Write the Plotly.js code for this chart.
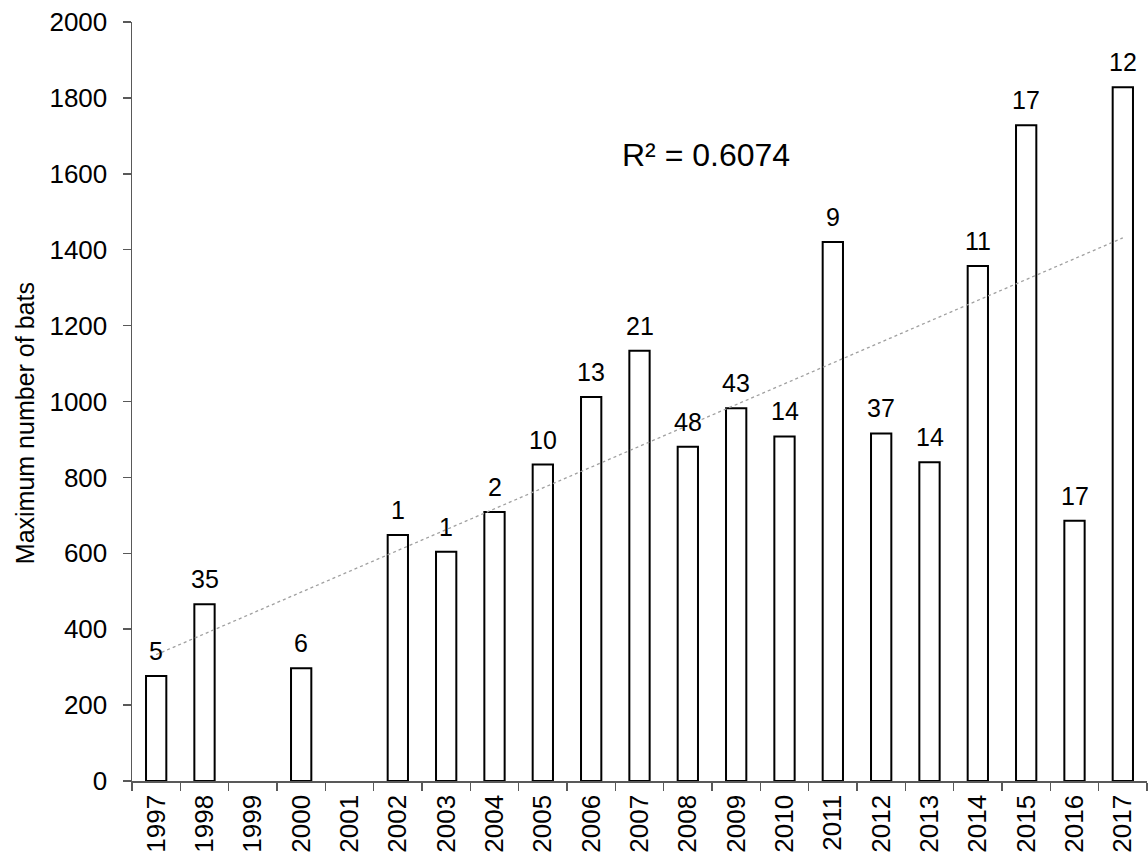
<!DOCTYPE html>
<html>
<head>
<meta charset="utf-8">
<script src="https://cdn.plot.ly/plotly-3.0.1.min.js"></script>
<style>html,body{margin:0;padding:0;background:#fff;}#chart{width:1148px;height:856px;}</style>
</head>
<body>
<div id="chart"></div>
<script>
// Data
const years = ['1997','1998','1999','2000','2001','2002','2003','2004','2005','2006','2007','2008','2009','2010','2011','2012','2013','2014','2015','2016','2017'];
const maxBats = [277, 466, null, 297, null, 648, 604, 709, 834, 1012, 1134, 881, 982, 908, 1420, 916, 840, 1357, 1728, 686, 1828];
const sampleCounts = ['5','35','','6','','1','1','2','10','13','21','48','43','14','9','37','14','11','17','17','12'];
const r2Label = 'R² = 0.6074';
const yTitle = 'Maximum number of bats';

// Linear trend (least squares on category index, missing years skipped)
const pts = [];
maxBats.forEach((v, i) => { if (v !== null) pts.push([i, v]); });
const n = pts.length;
const mx = pts.reduce((s, p) => s + p[0], 0) / n;
const my = pts.reduce((s, p) => s + p[1], 0) / n;
let sxy = 0, sxx = 0;
pts.forEach(p => { sxy += (p[0] - mx) * (p[1] - my); sxx += (p[0] - mx) ** 2; });
const slope = sxy / sxx, intercept = my - slope * mx;
const trendX = [years[0], years[years.length - 1]];
const trendY = [intercept, intercept + slope * (years.length - 1)];

const FONT = 'Arial, "Liberation Sans", sans-serif';

const bars = {
  type: 'bar', x: years, y: maxBats,
  marker: {color: '#ffffff', line: {color: '#000000', width: 2}},
  hoverinfo: 'x+y', showlegend: false
};
const trend = {
  type: 'scatter', mode: 'lines', x: trendX, y: trendY,
  line: {color: '#a0a0a0', width: 1.3, dash: 'dot'},
  hoverinfo: 'skip', showlegend: false
};

const annotations = [];
years.forEach((yr, i) => {
  if (maxBats[i] !== null && sampleCounts[i] !== '') {
    annotations.push({
      x: i, y: maxBats[i], xref: 'x', yref: 'y',
      text: sampleCounts[i], showarrow: false,
      yanchor: 'bottom', yshift: 9,
      font: {family: FONT, size: 25, color: '#000'}
    });
  }
});
annotations.push({
  xref: 'paper', yref: 'paper', x: 0.566, y: 0.825,
  text: r2Label, showarrow: false, xanchor: 'center', yanchor: 'middle',
  font: {family: FONT, size: 32, color: '#000'}
});
// y-axis title
annotations.push({
  xref: 'paper', yref: 'paper', x: -0.106, y: 0.472,
  text: yTitle, showarrow: false, textangle: -90,
  xanchor: 'center', yanchor: 'middle',
  font: {family: FONT, size: 25, color: '#000'}
});

const layout = {
  width: 1148, height: 856,
  margin: {l: 132, r: 1, t: 22, b: 75},
  paper_bgcolor: '#ffffff', plot_bgcolor: '#ffffff',
  font: {family: FONT, size: 20, color: '#000'},
  bargap: 0.58,
  xaxis: {
    type: 'category', categoryorder: 'array', categoryarray: years,
    range: [-0.5, years.length - 0.5],
    showgrid: false, zeroline: false,
    showline: true, linecolor: '#595959', linewidth: 1.5,
    ticks: 'outside', tickson: 'boundaries', ticklen: 8, tickcolor: '#595959', tickwidth: 1.5,
    tickangle: -90, ticklabelstandoff: 2,
    tickfont: {family: FONT, size: 26, color: '#000'}
  },
  yaxis: {
    range: [0, 2000], dtick: 200, showgrid: false, zeroline: false,
    showline: true, linecolor: '#595959', linewidth: 1.5,
    ticks: 'outside', ticklen: 8, tickcolor: '#595959', tickwidth: 1.5,
    ticklabelstandoff: 10,
    tickfont: {family: FONT, size: 26, color: '#000'}
  },
  annotations: annotations
};

Plotly.newPlot('chart', [bars, trend], layout, {displayModeBar: false, staticPlot: true});
</script>
</body>
</html>
